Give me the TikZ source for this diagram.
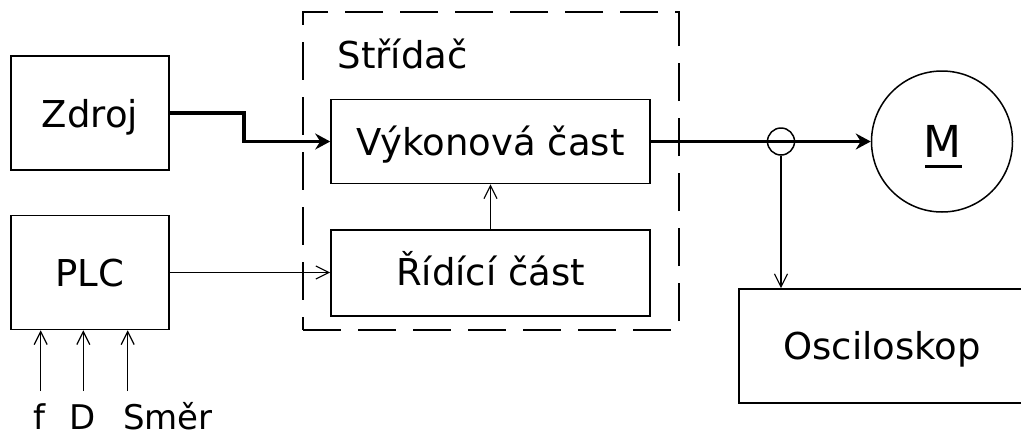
\documentclass[tikz,border=0pt]{standalone}
\usepackage{fontspec}
\setmainfont{DejaVu Sans}
\usetikzlibrary{arrows.meta,calc}
\begin{document}
\begin{tikzpicture}[x=1pt,y=-1pt,
 box/.style={draw, line width=1.6pt, inner sep=0pt, text depth=0pt, text height=28pt, font=\fontsize{37}{44}\selectfont},
 thinarrow/.style={line width=1.5pt, -{Straight Barb[length=13pt,width=13pt,line width=1.2pt]}},
 power/.style={line width=3.5pt, -{Stealth[length=15pt,width=16pt,inset=5pt]}},
 lbl/.style={font=\fontsize{37}{44}\selectfont, anchor=base, inner sep=0pt},
 inlbl/.style={font=\fontsize{34}{40}\selectfont, anchor=base, inner sep=0pt},
 frame/.style={draw, line width=1.6pt, dash pattern=on 38pt off 17pt, inner sep=0pt},
]
\useasboundingbox (0,0) rectangle (1021,437);
\clip (0,0) rectangle (1021,437);
\node[box, minimum width=158pt, minimum height=114pt] (zdroj) at (90,113) {Zdroj};
\node[box, minimum width=158pt, minimum height=114pt] (plc) at (90,272.5) {PLC};
\node[box, minimum width=319pt, minimum height=84pt] (vyk) at (490.5,141.5) {Výkonová čast};
\node[box, minimum width=319pt, minimum height=86pt, text height=24pt] (rid) at (490.5,273) {Řídící část};
\node[box, minimum width=286pt, minimum height=114pt, text height=26.6pt] (osc) at (882,346) {Osciloskop};
\node[frame, minimum width=376pt, minimum height=318pt] (strid) at (491,171) {};
\node[lbl] (stridlbl) at (402.5,68.3) {Střídač};
\node[draw, circle, line width=1.5pt, minimum size=141pt, inner sep=0pt, font=\fontsize{44}{50}\selectfont, text height=32pt, text depth=0pt] (motor) at (942,141.5) {M};
\draw[line width=3pt] ($(motor.center)+(-17,24.5)$) -- ++(37,0);
\node[draw, circle, line width=1.5pt, minimum size=27pt, inner sep=0pt] (tap) at (781,141.5) {};
\draw[power] (zdroj.east) -- ++(74,0) |- (vyk.west);
\draw[power] (vyk.east) -- (motor.west);
\draw[thinarrow] (plc.east) -- (plc.east -| rid.west);
\draw[thinarrow] (rid.north) -- (vyk.south);
\draw[thinarrow] (tap.south) -- (tap |- osc.north);
\coordinate (inf) at (40.7,391);
\coordinate (inD) at (83.3,391);
\coordinate (inS) at (127.7,391);
\draw[thinarrow] (inf) -- (inf |- plc.south);
\draw[thinarrow] (inD) -- (inD |- plc.south);
\draw[thinarrow] (inS) -- (inS |- plc.south);
\node[inlbl] (lf) at (39,429.5) {f};
\node[inlbl] (lD) at (83,429.5) {D};
\node[inlbl] (lS) at (168,429.5) {Směr};
\end{tikzpicture}
\end{document}
